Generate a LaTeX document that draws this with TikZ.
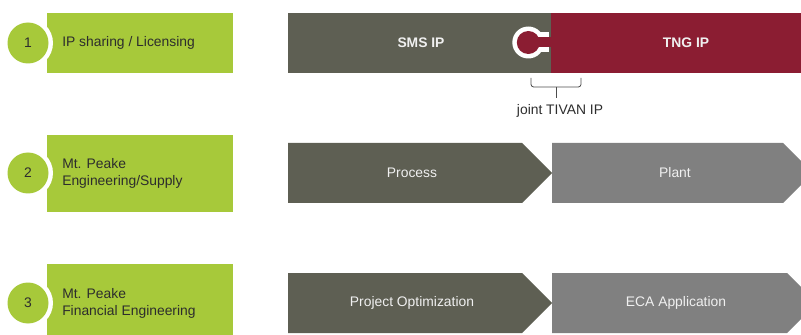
\documentclass[tikz,border=0pt]{standalone}
\usepackage{fontspec}
\setmainfont{Liberation Sans}
\definecolor{lgreen}{RGB}{167,201,58}
\definecolor{olive}{RGB}{94,95,83}
\definecolor{tngred}{RGB}{139,29,50}
\definecolor{midgray}{RGB}{128,128,128}
\definecolor{txtdark}{RGB}{45,45,45}
\definecolor{txtlight}{RGB}{240,240,240}
\begin{document}
\begin{tikzpicture}[x=0.75pt,y=-0.75pt,font=\fontsize{10.4}{12.75}\selectfont,
  lbl/.style={text=txtdark,anchor=west,align=left,inner sep=0pt},
  num/.style={text=txtdark,inner sep=0pt},
  wlbl/.style={text=txtlight,inner sep=0pt},
  numdisk/.style={fill=lgreen}]
\useasboundingbox (0,0) rectangle (801,335);
\clip (0,0) rectangle (801,335);
% ---------- left green panels ----------
\fill[lgreen] (47,13) rectangle (233,73);
\fill[lgreen] (47,135) rectangle (233,212);
\fill[lgreen] (47,264) rectangle (233,342);
\foreach \cy in {43,173,303}{
  \fill[white] (28,\cy) circle (25);
  \fill[numdisk] (28,\cy) circle (20.5);
}
\node[num] (n1) at (28,43) {1};
\node[num] (n2) at (28,173) {2};
\node[num] (n3) at (28,303) {3};
\node[lbl] (l1) at (62,43) {IP sharing / Licensing};
\node[lbl] (l2) at (62,173) {Mt. Peake\\Engineering/Supply};
\node[lbl] (l3) at (62,303) {Mt. Peake\\Financial Engineering};
% ---------- row 1 : IP blocks ----------
\fill[olive] (288,13) rectangle (551,73);
\fill[tngred] (551,13) rectangle (801,73);
\fill[white] (528.3,42.5) circle (16);
\fill[white] (528.3,32.5) rectangle (548.5,52.5);
\fill[tngred] (528.3,42.5) circle (11.5);
\fill[tngred] (528.3,37.5) rectangle (552,47.5);
\node[wlbl,font=\fontsize{10.4}{12.75}\selectfont\bfseries] (sms) at (421,43) {SMS IP};
\node[wlbl,font=\fontsize{10.4}{12.75}\selectfont\bfseries] (tng) at (686,43) {TNG IP};
% brace
\coordinate (bl) at (531,78);
\coordinate (br) at (581,78);
\coordinate (bm) at (556,87);
\draw[black!70,line width=0.6pt,rounded corners=2pt] (bl) |- (bm) -| (br);
\draw[black!70,line width=0.6pt] (bm) -- ++(0,11) coordinate (bt);
\node[text=txtdark,inner sep=0pt] (joint) at (560,111) {joint TIVAN IP};
% ---------- row 2 ----------
\fill[midgray] (552,143) -- (783,143) -- (813,173) -- (783,203) -- (552,203) -- cycle;
\fill[olive] (288,143) -- (522,143) -- (552,173) -- (522,203) -- (288,203) -- cycle;
\node[wlbl] (process) at (412,173) {Process};
\node[wlbl] (plant) at (675,173) {Plant};
% ---------- row 3 ----------
\fill[midgray] (552,273) -- (787,273) -- (817,303) -- (787,333) -- (552,333) -- cycle;
\fill[olive] (288,273) -- (522,273) -- (552,303) -- (522,333) -- (288,333) -- cycle;
\node[wlbl] (projopt) at (412,303) {Project Optimization};
\node[wlbl] (eca) at (676,303) {ECA Application};
\end{tikzpicture}
\end{document}
